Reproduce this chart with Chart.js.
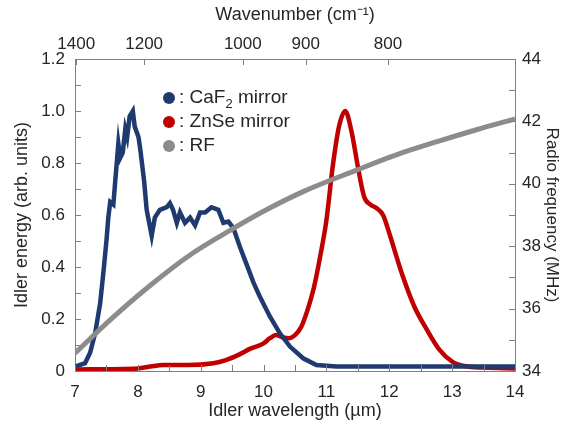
<!DOCTYPE html>
<html>
<head>
<meta charset="utf-8">
<script src="https://cdn.jsdelivr.net/npm/chart.js@4/dist/chart.umd.min.js"></script>
<style>
  html, body { margin: 0; padding: 0; background: #fff; }
  #wrap { width: 568px; height: 427px; }
</style>
</head>
<body>
<div id="wrap"><canvas id="chart"></canvas></div>
<script>
// CaF2 mirror idler spectrum
const caf2Wavelength = [7.0, 7.16, 7.24, 7.32, 7.40, 7.45, 7.50, 7.53, 7.56, 7.61, 7.64, 7.69, 7.72, 7.76, 7.80, 7.83, 7.87, 7.92, 7.95, 8.01, 8.04, 8.10, 8.14, 8.18, 8.22, 8.27, 8.35, 8.46, 8.51, 8.56, 8.62, 8.67, 8.75, 8.83, 8.91, 8.99, 9.07, 9.17, 9.28, 9.36, 9.44, 9.52, 9.62, 9.73, 9.84, 9.94, 10.10, 10.26, 10.42, 10.63, 10.84, 11.16, 12.22, 14.0];
const caf2Energy = [0.017, 0.03, 0.07, 0.145, 0.26, 0.375, 0.50, 0.59, 0.65, 0.64, 0.73, 0.875, 0.82, 0.84, 0.93, 0.90, 0.98, 1.0, 0.94, 0.90, 0.85, 0.73, 0.62, 0.57, 0.52, 0.59, 0.62, 0.63, 0.645, 0.62, 0.57, 0.61, 0.57, 0.59, 0.56, 0.61, 0.61, 0.63, 0.62, 0.57, 0.575, 0.55, 0.48, 0.41, 0.34, 0.286, 0.21, 0.145, 0.094, 0.049, 0.023, 0.017, 0.017, 0.017];

// ZnSe mirror idler spectrum
const znseWavelength = [7.0, 8.0, 8.2, 8.4, 8.8, 9.2, 9.4, 9.6, 9.8, 10.0, 10.1, 10.2, 10.3, 10.4, 10.5, 10.6, 10.7, 10.8, 10.9, 11.0, 11.1, 11.2, 11.3, 11.4, 11.5, 11.6, 11.7, 11.8, 11.9, 12.0, 12.2, 12.4, 12.6, 12.8, 13.0, 13.2, 13.5, 14.0];
const znseEnergy = [0.006, 0.01, 0.017, 0.023, 0.023, 0.03, 0.042, 0.062, 0.087, 0.106, 0.126, 0.138, 0.13, 0.126, 0.138, 0.17, 0.235, 0.32, 0.44, 0.58, 0.786, 0.94, 1.0, 0.92, 0.786, 0.67, 0.64, 0.626, 0.60, 0.53, 0.375, 0.247, 0.158, 0.081, 0.036, 0.019, 0.013, 0.01];

// RF drive frequency
const rfWavelength = [7.0, 7.56, 8.2, 8.83, 9.52, 10.0, 10.63, 11.48, 12.1, 12.76, 13.4, 14.0];
const rfFrequency = [34.57, 35.64, 36.75, 37.72, 38.57, 39.12, 39.75, 40.44, 40.92, 41.35, 41.74, 42.08];

// axis ticks
const topTickLabels = ['1400', '1200', '1000', '900', '800'];
const topTickAt = [7.02, 8.10, 9.67, 10.67, 11.98];

const toPoints = (xs, ys) => xs.map((x, i) => ({ x: x, y: ys[i] }));

const textColor = '#262626';
const axisColor = '#808080';
const fontFamily = '"Liberation Sans", Arial, sans-serif';

const inwardTicks = {
  id: 'inwardTicks',
  afterDraw: (chart) => {
    const ctx = chart.ctx;
    const area = chart.chartArea;
    const s = chart.scales;
    const len = 6;
    ctx.save();
    ctx.strokeStyle = axisColor;
    ctx.lineWidth = 1;
    ctx.beginPath();
    for (let v = 7; v <= 14.001; v += 0.5) {
      const px = Math.round(s.x.getPixelForValue(v)) + 0.5;
      ctx.moveTo(px, area.bottom);
      ctx.lineTo(px, area.bottom - len);
    }
    topTickAt.forEach((v) => {
      const px = Math.round(s.xTop.getPixelForValue(v)) + 0.5;
      ctx.moveTo(px, area.top);
      ctx.lineTo(px, area.top + len);
    });
    for (let v = 0; v <= 1.2001; v += 0.1) {
      const py = Math.round(s.y.getPixelForValue(v)) + 0.5;
      ctx.moveTo(area.left, py);
      ctx.lineTo(area.left + len, py);
    }
    for (let v = 34; v <= 44; v += 1) {
      const py = Math.round(s.yRF.getPixelForValue(v)) + 0.5;
      ctx.moveTo(area.right, py);
      ctx.lineTo(area.right - len, py);
    }
    ctx.stroke();
    ctx.restore();
  },
};

const legendBox = {
  id: 'legendBox',
  afterDraw: (chart) => {
    const ctx = chart.ctx;
    const rows = [
      { color: '#1f3a6e', parts: [[': CaF', 0], ['2', 1], [' mirror', 0]] },
      { color: '#c00000', parts: [[': ZnSe mirror', 0]] },
      { color: '#8c8c8c', parts: [[': RF', 0]] },
    ];
    ctx.save();
    ctx.textBaseline = 'middle';
    rows.forEach((row, i) => {
      const y = 98 + i * 24;
      ctx.fillStyle = row.color;
      ctx.beginPath();
      ctx.arc(169, y, 6, 0, Math.PI * 2);
      ctx.fill();
      let x = 179;
      ctx.fillStyle = textColor;
      row.parts.forEach(([txt, sub]) => {
        ctx.font = (sub ? '13px ' : '19px ') + fontFamily;
        ctx.fillText(txt, x, sub ? y + 6 : y);
        x += ctx.measureText(txt).width;
      });
    });
    ctx.restore();
  },
};

const tickFont = { family: fontFamily, size: 17 };
const titleFont = { family: fontFamily, size: 18 };
const noGrid = { display: false, drawTicks: false, tickLength: 0 };

new Chart(document.getElementById('chart'), {
  type: 'scatter',
  plugins: [inwardTicks, legendBox],
  data: {
    datasets: [
      {
        label: 'RF',
        data: toPoints(rfWavelength, rfFrequency),
        yAxisID: 'yRF',
        showLine: true,
        borderColor: '#8c8c8c',
        borderWidth: 5,
        pointRadius: 0,
        cubicInterpolationMode: 'monotone',
      },
      {
        label: 'CaF2 mirror',
        data: toPoints(caf2Wavelength, caf2Energy),
        yAxisID: 'y',
        showLine: true,
        borderColor: '#1f3a6e',
        borderWidth: 4.5,
        pointRadius: 0,
        tension: 0,
      },
      {
        label: 'ZnSe mirror',
        data: toPoints(znseWavelength, znseEnergy),
        yAxisID: 'y',
        showLine: true,
        borderColor: '#c00000',
        borderWidth: 4.5,
        pointRadius: 0,
        cubicInterpolationMode: 'monotone',
      },
    ],
  },
  options: {
    responsive: true,
    maintainAspectRatio: false,
    animation: false,
    layout: { padding: 0 },
    plugins: {
      legend: { display: false },
      tooltip: { enabled: false },
    },
    scales: {
      x: {
        type: 'linear',
        position: 'bottom',
        min: 7,
        max: 14,
        afterFit: (scale) => { scale.height = 56; },
        ticks: { stepSize: 1, color: textColor, font: tickFont, padding: 11, maxRotation: 0 },
        grid: noGrid,
        border: { display: true, color: axisColor },
        title: { display: true, text: 'Idler wavelength (µm)', color: textColor, font: titleFont, padding: { top: 0, bottom: 5 } },
      },
      xTop: {
        type: 'linear',
        position: 'top',
        min: 7,
        max: 14,
        afterFit: (scale) => { scale.height = 59; },
        afterBuildTicks: (scale) => {
          scale.ticks = topTickAt.map((v) => ({ value: v }));
        },
        ticks: {
          color: textColor,
          font: tickFont,
          padding: 4,
          maxRotation: 0,
          autoSkip: false,
          callback: (value, index) => topTickLabels[index],
        },
        grid: noGrid,
        border: { display: true, color: axisColor },
        title: { display: true, text: 'Wavenumber (cm⁻¹)', color: textColor, font: titleFont, padding: { top: 4, bottom: 0 } },
      },
      y: {
        type: 'linear',
        position: 'left',
        min: 0,
        max: 1.2,
        afterFit: (scale) => { scale.width = 75; },
        ticks: {
          stepSize: 0.2,
          color: textColor,
          font: tickFont,
          padding: 10,
          callback: (v) => (v === 0 ? '0' : v.toFixed(1)),
        },
        grid: noGrid,
        border: { display: true, color: axisColor },
        title: { display: true, text: 'Idler energy (arb. units)', color: textColor, font: titleFont, padding: { top: 11, bottom: 0 } },
      },
      yRF: {
        type: 'linear',
        position: 'right',
        min: 34,
        max: 44,
        afterFit: (scale) => { scale.width = 53; },
        ticks: { stepSize: 2, color: textColor, font: tickFont, padding: 7 },
        grid: noGrid,
        border: { display: true, color: axisColor },
        title: { display: true, text: 'Radio frequency (MHz)', color: textColor, font: { family: fontFamily, size: 17 }, padding: { top: 6, bottom: 0 } },
      },
    },
  },
});
</script>
</body>
</html>
